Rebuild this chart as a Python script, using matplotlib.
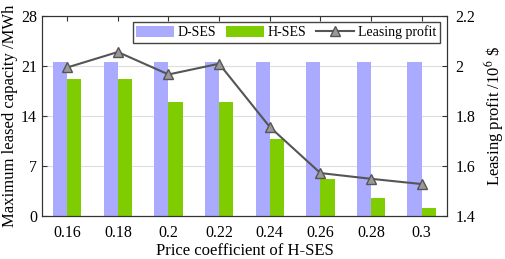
import matplotlib.pyplot as plt
import numpy as np

plt.rcParams['font.family'] = ['Liberation Serif', 'DejaVu Serif']
plt.rcParams['mathtext.fontset'] = 'stix'

coef = ['0.16', '0.18', '0.2', '0.22', '0.24', '0.26', '0.28', '0.3']
d_ses = [21.5, 21.5, 21.5, 21.5, 21.5, 21.5, 21.5, 21.5]
h_ses = [19.2, 19.2, 15.9, 15.9, 10.7, 5.1, 2.45, 1.1]
profit = [1.994, 2.056, 1.966, 2.009, 1.756, 1.571, 1.548, 1.527]

x = np.arange(len(coef))
w = 0.28

fig = plt.figure(figsize=(5.05, 2.59), dpi=100)
ax = fig.add_axes([0.083, 0.167, 0.802, 0.771])
ax.yaxis.grid(True, color='#dddddd', lw=0.8)
ax.set_axisbelow(True)
b1 = ax.bar(x - w/2, d_ses, w, color='#aaaaff', label='D-SES')
b2 = ax.bar(x + w/2, h_ses, w, color='#7fcc00', label='H-SES')
ax.set_ylim(0, 28)
ax.set_yticks([0, 7, 14, 21, 28])
ax.set_xlim(-0.5, len(coef) - 0.5)
ax.set_xticks(x)
ax.set_xticklabels(coef)
ax.set_xlabel('Price coefficient of H-SES', fontsize=12, labelpad=1)
ax.set_ylabel('Maximum leased capacity /MWh', fontsize=12, labelpad=2)
ax.tick_params(direction='in', labelsize=11.5, top=True, colors='#333333', labelcolor='black')
ax.tick_params(axis='x', pad=7)

ax2 = ax.twinx()
l1, = ax2.plot(x, profit, color='#555555', lw=1.5, marker='^', ms=6.5,
               mfc='#999999', mec='#555555', label='Leasing profit')
ax2.set_ylim(1.4, 2.2)
ax2.set_yticks([1.4, 1.6, 1.8, 2.0, 2.2])
ax2.set_yticklabels(['1.4', '1.6', '1.8', '2', '2.2'])
ax2.set_ylabel(r'Leasing profit /10$^6$ \$', fontsize=12, labelpad=5)
ax2.tick_params(direction='in', labelsize=11.5, pad=6, colors='#333333', labelcolor='black')

for a in (ax, ax2):
    for s in a.spines.values():
        s.set_color('#333333')

leg = ax.legend([b1, b2, l1], ['D-SES', 'H-SES', 'Leasing profit'], ncol=3,
                loc='upper right', bbox_to_anchor=(0.982, 0.97), borderaxespad=0,
                fontsize=10, fancybox=False, edgecolor='#444444', framealpha=1,
                handlelength=2.7, handleheight=0.9, columnspacing=0.7,
                borderpad=0.25, handletextpad=0.3)
leg.get_frame().set_linewidth(1.0)

fig.savefig('out.png', dpi=100)
